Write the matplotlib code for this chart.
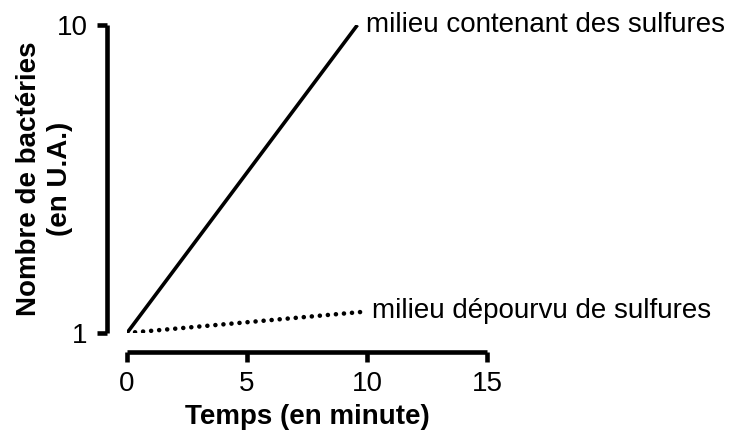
import numpy as np
import matplotlib
matplotlib.use("Agg")
import matplotlib.pyplot as plt

plt.rcParams['font.family'] = ['Liberation Sans', 'DejaVu Sans']

# data
temps = [0, 9.6]
avec_sulfures = [1, 10]
temps_sans = [0, 9.75]
sans_sulfures = [1, 1.17]
labels = ["milieu contenant des sulfures", "milieu dépourvu de sulfures"]
xticks = [0, 5, 10, 15]
yticks = [1, 10]

fig = plt.figure(figsize=(7.36, 4.30), dpi=100)
ax = fig.add_axes([127/736, 1-333/430, 360/736, 308/430])

ax.plot(temps, avec_sulfures, color='black', lw=2.6, solid_capstyle='butt')
ax.plot(temps_sans, sans_sulfures, color='black', lw=3.3,
        linestyle=(0, (0.01, 1.75)), dash_capstyle='round')

ax.annotate(labels[0], (temps[-1], avec_sulfures[-1]), xytext=(6, 0),
            textcoords='offset points', va='center', ha='left', fontsize=20)
ax.annotate(labels[1], (temps_sans[-1], sans_sulfures[-1]), xytext=(8, 1),
            textcoords='offset points', va='center', ha='left', fontsize=20)

ax.set_yscale('log')
ax.set_ylim(1, 10)
ax.set_xlim(0, 15)
ax.set_xticks(xticks)
ax.set_xticklabels([str(v) for v in xticks])
ax.set_yticks(yticks)
ax.set_yticklabels([str(v) for v in yticks])
ax.yaxis.set_minor_locator(matplotlib.ticker.NullLocator())

for s in ['top', 'right']:
    ax.spines[s].set_visible(False)
ax.spines['left'].set_position(('outward', 14.4))
ax.spines['bottom'].set_position(('outward', 13.7))
for s in ['left', 'bottom']:
    ax.spines[s].set_linewidth(3.3)
    ax.spines[s].set_capstyle('butt')
ax.tick_params(width=3.3, length=7.5, labelsize=20)
ax.tick_params(axis='y', pad=6.5)
ax.tick_params(axis='x', pad=6.5)

ax.set_xlabel("Temps (en minute)", fontsize=20, fontweight='bold', labelpad=4.5)
ax.set_ylabel("Nombre de bactéries\n(en U.A.)", fontsize=20, fontweight='bold',
              linespacing=1.25, va='center', ha='center')
ax.yaxis.set_label_coords(-0.23, 0.5)

fig.savefig("out.png", dpi=100)
